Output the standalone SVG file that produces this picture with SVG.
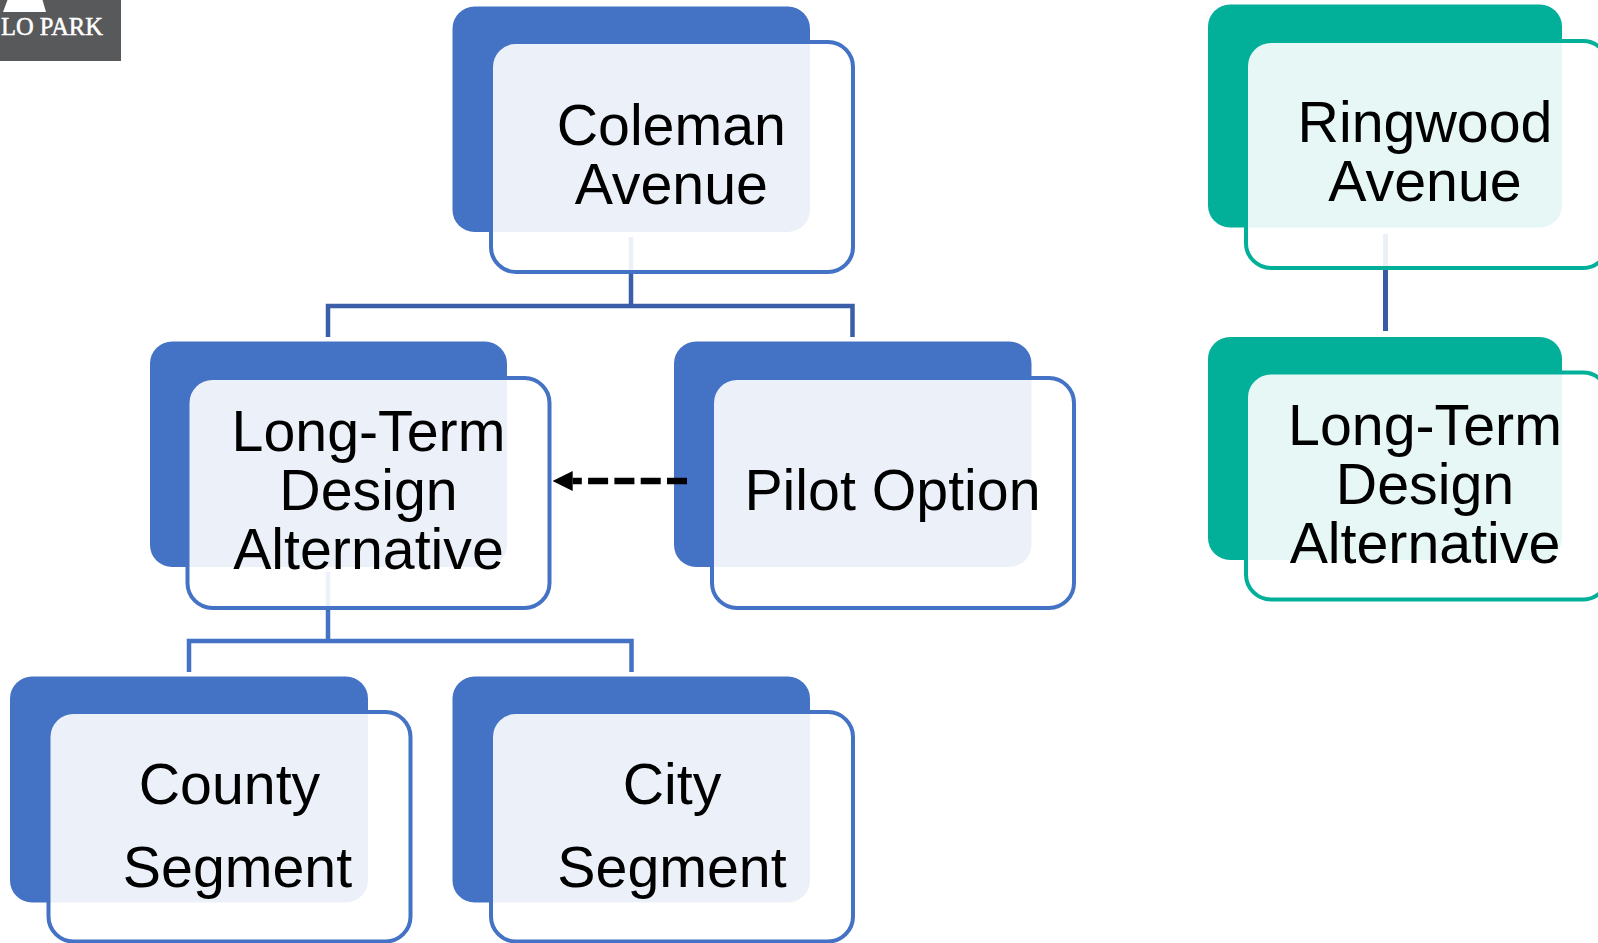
<svg xmlns="http://www.w3.org/2000/svg" width="1598" height="943" viewBox="0 0 1598 943">
<style>
text{font-family:"Liberation Sans",Arial,sans-serif;font-size:57.3px;fill:#000;text-anchor:middle}
.b{fill:#4472C4}.g{fill:#02B09A}
.bo{fill:#fff;fill-opacity:.9;stroke:#4472C4;stroke-width:4}
.go{fill:#fff;fill-opacity:.9;stroke:#02B09A;stroke-width:4}
.c{fill:none;stroke:#4472C4;stroke-width:4.5}
.d{fill:none;stroke:#3A5FA8;stroke-width:4.5}
.r{fill:none;stroke:#3A5AA5;stroke-width:5}
</style>
<defs><marker id="ah" markerUnits="userSpaceOnUse" markerWidth="20" markerHeight="20" refX="0" refY="10" orient="auto"><path d="M0 0L20 10L0 20Z" fill="#000"/></marker></defs>
<g id="logo"><rect width="121" height="61" fill="#58595B"/><path d="M7.500 0H42.500L46 12H3Z" fill="#fff"/><text x="1" y="35" style="font-family:'Liberation Serif',serif;font-size:24.500px;fill:#fff;stroke:#fff;stroke-width:.5px;text-anchor:start">LO PARK</text></g>
<g id="connectors-under">
<path class="d" d="M631 237V306M328 337V306H852.500V337"/>
<path class="c" d="M328 572V641M189 672V641H631.500V672"/>
<path class="r" d="M1385.500 234V331"/>
</g>
<g id="coleman"><rect class="b" x="452.500" y="6.500" width="357.500" height="225.500" rx="22"/><rect class="bo" x="491" y="42" width="362" height="230" rx="25"/><text x="671.300" y="145">Coleman</text><text x="671.300" y="204">Avenue</text></g>
<g id="longterm"><rect class="b" x="150" y="341.500" width="357" height="225.500" rx="22"/><rect class="bo" x="187.500" y="378" width="362" height="230" rx="25"/><text x="368.500" y="451">Long-Term</text><text x="368.500" y="510">Design</text><text x="368.500" y="569">Alternative</text></g>
<g id="pilot"><rect class="b" x="674" y="341.500" width="357.500" height="225.500" rx="22"/><rect class="bo" x="712" y="378" width="362" height="230" rx="25"/><text x="892.500" y="510">Pilot Option</text></g>
<g id="county"><rect class="b" x="10" y="676.500" width="358" height="226" rx="22"/><rect class="bo" x="48.500" y="712" width="362" height="229.500" rx="25"/><text x="229.500" y="804">County</text><text x="237.500" y="886.500">Segment</text></g>
<g id="city"><rect class="b" x="452.500" y="676.500" width="357.500" height="226" rx="22"/><rect class="bo" x="491" y="712" width="362" height="229.500" rx="25"/><text x="672" y="804">City</text><text x="672" y="886.500">Segment</text></g>
<g id="ringwood"><rect class="g" x="1208" y="4.500" width="354" height="223" rx="22"/><rect class="go" x="1246" y="41" width="362" height="227" rx="25"/><text x="1425" y="142">Ringwood</text><text x="1425" y="201">Avenue</text></g>
<g id="ringwood-longterm"><rect class="g" x="1208" y="337" width="354" height="223" rx="22"/><rect class="go" x="1246" y="372.500" width="362" height="227" rx="25"/><text x="1425" y="445">Long-Term</text><text x="1425" y="504">Design</text><text x="1425" y="563">Alternative</text></g>
<g id="connectors"><path d="M687 481H572.700" fill="none" stroke="#000" stroke-width="6.500" stroke-dasharray="20 6.300" marker-end="url(#ah)"/></g>
</svg>
